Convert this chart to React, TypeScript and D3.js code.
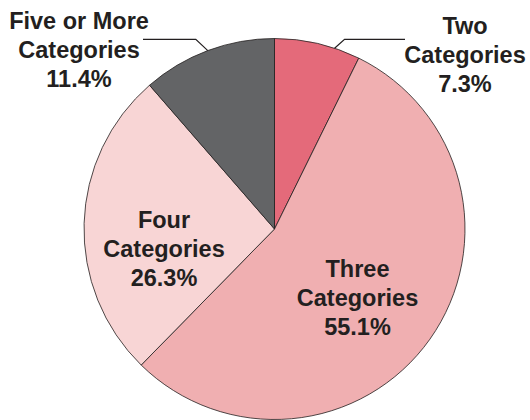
import React from "react";
import * as d3 from "d3";

const categories = ["Two Categories", "Three Categories", "Four Categories", "Five or More Categories"];
const values = [7.3, 55.1, 26.3, 11.4];
const labelLines = [
  ["Two", "Categories", "7.3%"],
  ["Three", "Categories", "55.1%"],
  ["Four", "Categories", "26.3%"],
  ["Five or More", "Categories", "11.4%"],
];
const colors = ["#E46A7A", "#F0AFB1", "#F8D5D5", "#636466"];

const W = 530;
const H = 420;
const cx = 274.5;
const cy = 229;
const R = 190.5;
const FS = 23.5;
const LH = 29;
const TEXT = "#231f20";

// label block centre (x, y of first baseline)
const labelPos: [number, number][] = [
  [465, 34],
  [357.5, 277],
  [164, 227.5],
  [79, 29],
];

export default function App() {
  const pie = d3
    .pie<number>()
    .sort(null)
    .value((d) => d)
    .startAngle(0)
    .endAngle(2 * Math.PI);
  const arcs = pie(values);
  const arc = d3.arc<d3.PieArcDatum<number>>().innerRadius(0).outerRadius(R);

  const edge = (a: number, r: number) => [cx + r * Math.sin(a), cy - r * Math.cos(a)];

  // leader lines for the small slices
  const twoA = arcs[0].startAngle + (arcs[0].endAngle - arcs[0].startAngle) * 0.7;
  const fiveA = (arcs[3].startAngle + arcs[3].endAngle) / 2;
  const [tx, ty] = edge(twoA, R);
  const [fx, fy] = edge(fiveA, R);
  const leaderY = 39.3;
  const twoPath = `M${tx},${ty}L${tx + 10},${leaderY}L405,${leaderY}`;
  const fivePath = `M${fx},${fy}L${fx - 12},${leaderY}L143,${leaderY}`;

  return (
    <svg
      width={W}
      height={H}
      style={{ position: "absolute", left: 0, top: 0, background: "#fff" }}
      fontFamily="'Liberation Sans', Arial, sans-serif"
    >
      <g transform={`translate(${cx},${cy})`}>
        {arcs.map((a, i) => (
          <path key={categories[i]} d={arc(a) || ""} fill={colors[i]} stroke={TEXT} strokeWidth={0.8} />
        ))}
      </g>
      <path d={twoPath} fill="none" stroke={TEXT} strokeWidth={1.2} />
      <path d={fivePath} fill="none" stroke={TEXT} strokeWidth={1.2} />
      {labelLines.map((lines, i) => (
        <text
          key={categories[i]}
          x={labelPos[i][0]}
          y={labelPos[i][1]}
          textAnchor="middle"
          fontWeight="bold"
          fontSize={FS}
          fill={TEXT}
        >
          {lines.map((l, j) => (
            <tspan key={j} x={labelPos[i][0]} y={labelPos[i][1] + j * LH}>
              {l}
            </tspan>
          ))}
        </text>
      ))}
    </svg>
  );
}
